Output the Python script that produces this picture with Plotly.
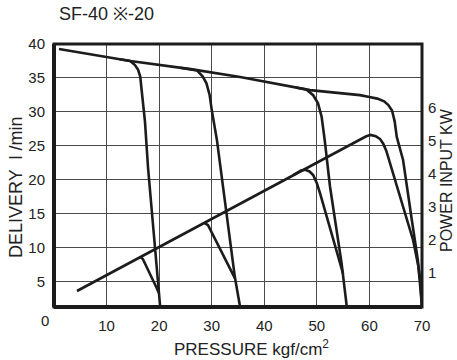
import plotly.graph_objects as go

# ---------------- data ----------------
title_text = "SF-40 ※-20"
x_title = "PRESSURE kgf/cm<sup>2</sup>"
y_title = "DELIVERY  l /min"
y2_title = "POWER INPUT KW"

x_ticks = [10, 20, 30, 40, 50, 60, 70]
y_ticks = [5, 10, 15, 20, 25, 30, 35, 40]
y2_ticks = [1, 2, 3, 4, 5, 6]
origin_label = "0"

# delivery (l/min) vs pressure (kgf/cm2)
del70_p = [0.95, 14.5, 26.0, 35.4, 48.7, 58.2, 60.0, 61.5, 62.8, 63.6, 64.3, 64.8, 65.2, 66.4, 68.0, 69.2, 69.6, 70.0]
del70_q = [39.26, 37.5, 36.3, 35.13, 33.2, 32.46, 32.2, 31.95, 31.55, 31.0, 30.2, 28.6, 26.3, 22.9, 14.4, 8.2, 4.8, 1.24]

del20_p = [12.5, 14.5, 15.4, 16.0, 16.4, 16.7, 17.3, 17.9, 18.9, 20.2]
del20_q = [37.76, 37.5, 36.9, 36.2, 35.2, 33.2, 28.6, 21.65, 12.6, 1.24]

del35_p = [24.0, 26.0, 27.2, 28.3, 29.0, 29.6, 30.0, 31.0, 32.0, 32.5, 34.4, 35.4]
del35_q = [36.51, 36.3, 36.1, 35.2, 34.2, 32.5, 30.3, 25.8, 19.95, 17.0, 5.65, 1.24]

del55_p = [46.0, 48.0, 49.3, 50.2, 50.9, 51.5, 52.5, 54.7, 55.7]
del55_q = [33.59, 33.3, 32.45, 31.3, 29.3, 25.8, 19.0, 7.7, 1.24]

# power input (kW) vs pressure
pow60_p = [4.37, 54.4, 58.2, 59.3, 60.2, 61.2, 62.0, 62.6, 63.2, 68.3, 69.3, 69.7, 70.0]
pow60_w = [0.44, 4.72, 5.02, 5.13, 5.18, 5.14, 5.06, 4.92, 4.70, 1.99, 1.2, 0.75, -0.04]

pow20_p = [16.4, 16.9, 19.53, 19.95]
pow20_w = [1.47, 1.41, 0.53, 0.38]

pow35_p = [28.6, 29.3, 34.4]
pow35_w = [2.51, 2.44, 0.83]

pow55_p = [45.5, 47.0, 47.8, 48.6, 49.3, 50.0, 50.6, 55.0]
pow55_w = [3.96, 4.10, 4.12, 4.07, 3.96, 3.71, 3.41, 0.96]

# ---------------- figure ----------------
INK = "#1c1c1c"
LW = 2.6
FONT = "Liberation Sans, Arial, Helvetica, sans-serif"

fig = go.Figure()
for p, q in [(del70_p, del70_q), (del20_p, del20_q), (del35_p, del35_q), (del55_p, del55_q)]:
    fig.add_trace(go.Scatter(x=p, y=q, mode="lines", yaxis="y",
                             line=dict(color=INK, width=LW), showlegend=False, hoverinfo="skip"))
for p, w in [(pow60_p, pow60_w), (pow20_p, pow20_w), (pow35_p, pow35_w), (pow55_p, pow55_w)]:
    fig.add_trace(go.Scatter(x=p, y=w, mode="lines", yaxis="y2",
                             line=dict(color=INK, width=LW), showlegend=False, hoverinfo="skip"))

grid = dict(showgrid=True, gridcolor="#4a4a4a", gridwidth=1.2, zeroline=False, showline=False)

fig.update_layout(
    width=457, height=360,
    margin=dict(l=54, r=35, t=44, b=53),
    paper_bgcolor="white", plot_bgcolor="white",
    font=dict(family=FONT, color="#222", size=15),
    title=dict(text=title_text, x=59 / 457, xanchor="left", xref="container",
               y=1 - 14 / 360, yanchor="middle", yref="container",
               font=dict(size=18, family=FONT, color="#222")),
    xaxis=dict(range=[0, 70], tickvals=x_ticks, ticks="outside", ticklen=5,
               tickcolor="white", tickfont=dict(size=15), **grid),
    yaxis=dict(range=[1.24, 40], tickvals=y_ticks, ticks="outside", ticklen=5,
               tickcolor="white", tickfont=dict(size=15), **grid),
    yaxis2=dict(range=[-0.046, 7.94], tickvals=y2_ticks, overlaying="y", side="right",
                showgrid=False, zeroline=False, showline=False, ticks="outside", ticklen=2,
                tickcolor="white", tickfont=dict(size=15)),
    shapes=[
        dict(type="rect", xref="paper", yref="paper", x0=0, x1=1, y0=0, y1=1,
             line=dict(color=INK, width=3), layer="above"),
        dict(type="line", xref="paper", yref="paper", x0=0, x1=0, y0=0, y1=1,
             line=dict(color=INK, width=4), layer="above"),
        dict(type="line", xref="paper", yref="paper", x0=0, x1=1, y0=0, y1=0,
             line=dict(color=INK, width=4), layer="above"),
    ],
    annotations=[
        dict(text=x_title, xref="paper", yref="paper", x=(252 - 54) / 368, y=(307 - 348) / 263,
             xanchor="center", yanchor="middle", showarrow=False, font=dict(size=17)),
        dict(text=y_title, xref="paper", yref="paper", x=(16 - 54) / 368, y=(307 - 188) / 263,
             xanchor="center", yanchor="middle", textangle=-90, showarrow=False, font=dict(size=18)),
        dict(text=y2_title, xref="paper", yref="paper", x=(446.5 - 54) / 368, y=(307 - 180.5) / 263,
             xanchor="center", yanchor="middle", textangle=-90, showarrow=False, font=dict(size=16)),
        dict(text=origin_label, xref="paper", yref="paper", x=(45 - 54) / 368, y=(307 - 320) / 263,
             xanchor="center", yanchor="middle", showarrow=False, font=dict(size=15)),
    ],
)

fig.write_html("out.html", config={"displayModeBar": False},
               post_script="document.body.style.margin='0px';")
